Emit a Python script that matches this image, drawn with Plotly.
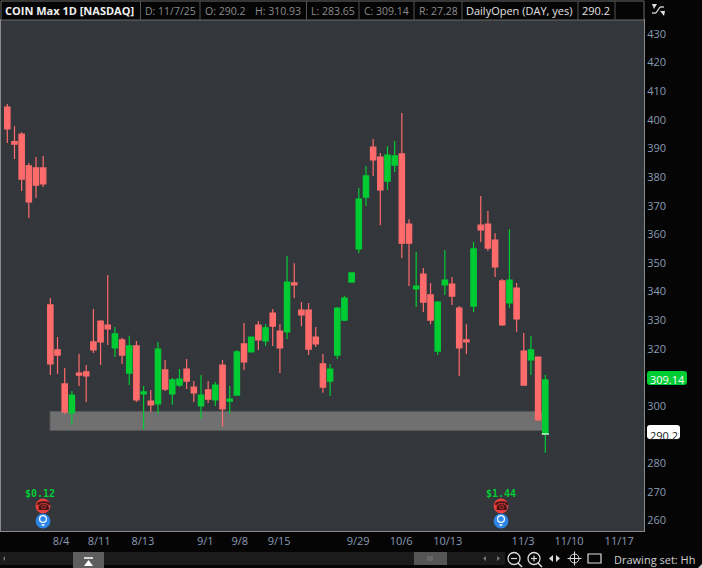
import plotly.graph_objects as go

W, H = 702, 568
L, R, T, B = 1, 644, 20, 531

highs = [405.5,397.8,395.7,384.9,387.0,387.4,337.7,324.1,313.3,305.2,318.2,314.3,333.9,330.0,345.8,327.6,323.8,324.5,322.7,307.0,
         305.6,322.4,316.1,309.8,312.9,316.4,308.7,310.8,308.7,308.4,316.1,307.0,319.6,329.0,324.1,329.7,328.6,333.9,328.6,352.4,
         349.9,336.3,336.0,327.6,318.2,314.7,334.6,338.4,346.5,376.2,383.9,393.3,388.4,390.8,392.6,402.4,365.3,353.8,348.2,343.0,
         336.7,354.5,345.1,334.9,328.6,357.3,373.4,368.1,360.4,344.4,361.8,343.0,325.5,324.5,317.1,310.93]
body_top = [404.5,392.4,395.0,383.9,383.2,383.2,335.3,319.6,307.7,303.8,311.5,311.9,322.4,329.7,328.3,325.2,323.1,321.0,321.0,304.9,
            301.7,319.9,312.6,309.1,309.4,312.9,306.6,303.8,305.6,307.3,314.3,302.4,318.9,321.7,324.1,328.3,327.3,332.5,326.2,343.3,
            343.0,333.5,333.5,324.1,314.7,312.9,334.2,337.7,346.5,372.3,380.4,390.5,387.0,387.7,387.4,388.1,363.6,341.9,346.1,338.8,
            336.3,344.0,342.6,334.2,323.1,354.9,363.2,363.6,358.0,343.7,344.0,341.2,319.2,319.6,317.1,309.14]
body_bot = [396.8,391.5,379.3,371.3,377.2,377.6,314.7,317.8,297.9,297.6,310.8,310.5,319.6,322.4,326.9,320.3,317.8,311.5,302.1,304.2,
            300.4,300.7,305.9,304.2,307.3,308.7,304.6,300.0,302.4,302.1,299.0,301.7,303.8,315.4,318.9,323.1,322.7,327.9,320.3,325.9,
            342.3,331.8,319.9,321.7,306.6,308.7,317.8,330.0,343.3,354.9,373.0,386.0,375.5,378.6,384.2,356.9,356.9,340.9,336.3,330.0,
            319.2,342.3,338.4,320.3,322.4,334.9,361.5,355.2,348.6,328.3,336.0,330.4,307.3,316.1,295.1,290.2]
lows = [391.9,386.3,375.1,365.7,372.7,376.5,310.8,311.2,297.2,293.4,307.0,301.4,318.5,314.3,321.3,317.1,314.7,307.3,301.4,291.6,
        297.9,297.2,305.2,300.4,306.6,305.9,301.4,295.5,301.0,300.0,292.7,297.2,303.8,312.6,318.9,319.6,321.0,321.0,311.5,323.4,
        337.7,327.9,317.8,320.6,304.6,303.5,316.4,329.7,343.3,353.5,369.9,380.4,363.2,375.5,381.8,351.7,341.9,334.6,332.8,328.6,
        317.8,338.8,335.3,310.5,318.2,332.8,357.3,354.2,345.1,328.0,334.2,325.9,307.0,310.8,294.8,283.65]
is_up = [0,0,0,0,0,0,0,0,0,1,0,0,0,0,0,1,0,1,0,1,
         0,1,0,1,1,0,0,1,0,1,0,1,1,0,1,0,1,0,0,1,
         0,0,0,0,0,1,1,1,1,1,1,0,0,1,1,0,0,1,0,0,
         1,1,0,0,0,1,0,0,0,0,1,0,0,1,0,1]

opens = [b if u else t for t, b, u in zip(body_top, body_bot, is_up)]
closes = [t if u else b for t, b, u in zip(body_top, body_bot, is_up)]
session = list(range(len(highs)))

tick_labels = ["8/4","8/11","8/13","9/1","9/8","9/15","9/29","10/6","10/13","11/3","11/10","11/17"]
tick_sessions = [7.5,12.8,18.9,27.6,32.4,37.9,48.9,54.9,61.4,71.9,78.3,85.3]
price_ticks = [430,420,410,400,390,380,370,360,350,340,330,320,300,280,270,260]
band_low, band_high = 291.4, 298.1
band_start, band_end = 5.95, 74.9
last_close, daily_open = 309.14, 290.2

header_cells = [("COIN Max 1D [NASDAQ]", 5, "#f0f0f0", True, 11),
                ("D: 11/7/25", 144.6, "#8b8b8b", False, 10.5),
                ("O: 290.2", 204.6, "#8b8b8b", False, 10.5),
                ("H: 310.93", 254.8, "#8b8b8b", False, 10.5),
                ("L: 283.65", 311, "#8b8b8b", False, 10.5),
                ("C: 309.14", 364, "#8b8b8b", False, 10.5),
                ("R: 27.28", 419, "#8b8b8b", False, 10.5),
                ("DailyOpen (DAY, yes)", 466, "#e0e0e0", False, 11),
                ("290.2", 582, "#e0e0e0", False, 11)]
header_seps = [140.5, 200, 306.5, 359, 414, 462, 578, 615]

FONT = "Open Sans"
GREEN, RED = "#00cc33", "#ff6b6b"
AXIS = "#8a9bb3"

px = lambda x: (x - L) / (R - L)
py = lambda y: (B - y) / (B - T)
shapes, ann = [], []

def rect(x0, y0, x1, y1, fill, line=None, lw=0):
    shapes.append(dict(type="rect", xref="paper", yref="paper", x0=px(x0), x1=px(x1), y0=py(y0), y1=py(y1),
                       fillcolor=fill, line=dict(color=line or fill, width=lw), layer="above"))

def rounded(x0, y0, x1, y1, r, fill):
    p = lambda x, y: f"{px(x):.5f},{py(y):.5f}"
    d = (f"M{p(x0+r,y0)} L{p(x1-r,y0)} Q{p(x1,y0)} {p(x1,y0+r)} L{p(x1,y1-r)} Q{p(x1,y1)} {p(x1-r,y1)} "
         f"L{p(x0+r,y1)} Q{p(x0,y1)} {p(x0,y1-r)} L{p(x0,y0+r)} Q{p(x0,y0)} {p(x0+r,y0)} Z")
    shapes.append(dict(type="path", xref="paper", yref="paper", path=d, fillcolor=fill, line=dict(width=0), layer="above"))

def circ(cx, cy, r, fill, line=None, lw=0):
    shapes.append(dict(type="circle", xref="paper", yref="paper", x0=px(cx-r), x1=px(cx+r), y0=py(cy+r), y1=py(cy-r),
                       fillcolor=fill, line=dict(color=line or fill, width=lw), layer="above"))

def seg(x0, y0, x1, y1, color, lw=1):
    shapes.append(dict(type="line", xref="paper", yref="paper", x0=px(x0), x1=px(x1), y0=py(y0), y1=py(y1),
                       line=dict(color=color, width=lw), layer="above"))

def poly(points, fill):
    d = "M" + " L".join(f"{px(x):.5f},{py(y):.5f}" for x, y in points) + " Z"
    shapes.append(dict(type="path", xref="paper", yref="paper", path=d, fillcolor=fill, line=dict(width=0), layer="above"))

def text(s, x, y, color, size=11, anchor="left", bold=False, family=FONT):
    ann.append(dict(xref="paper", yref="paper", x=px(x), y=py(y), text=f"<b>{s}</b>" if bold else s, showarrow=False,
                    xanchor=anchor, yanchor="middle", font=dict(family=family, size=size, color=color),
                    borderpad=0, borderwidth=0))

# price band (under the candles)
shapes.append(dict(type="rect", xref="x", yref="y", x0=band_start, x1=band_end, y0=band_low, y1=band_high,
                   fillcolor="#707070", line=dict(color="#585858", width=1), layer="below"))

# header
rect(1, 1, 644, 20, "#050505", "#6a6a6a", 1)
for s in header_seps:
    seg(s, 1, s, 20, "#555555")
for label, x0, color, bold, size in header_cells:
    text(label, x0, 10.5, color, size, bold=bold)

# earnings / dividend markers
for cx, lab in ((43, "$0.12"), (501, "$1.44")):
    text(lab, cx - 3.5 if cx == 43 else cx, 493, GREEN, 10, "center", True, "DejaVu Sans Mono")
    circ(cx, 506, 7.4, "#e8403f")
    text("☎", cx, 505.5, "#4a1414", 12, "center", family="DejaVu Sans")
    circ(cx, 521, 7.4, "#2b86e8")
    circ(cx, 519, 3.4, "#2b86e8", "#ffffff", 1.3)
    seg(cx - 1.5, 525, cx + 1.5, 525, "#ffffff", 1.5)

# price tags
rounded(647, 371, 687, 385, 3, GREEN)
ann.append(dict(xref="paper", yref="y", x=px(667), y=last_close, text=f"{last_close:.2f}", showarrow=False,
                xanchor="center", font=dict(family=FONT, size=11, color="#ffffff")))
rounded(647, 425, 680, 439, 3, "#ffffff")
ann.append(dict(xref="paper", yref="y", x=px(663.5), y=daily_open - 0.4, text=f"{daily_open}", showarrow=False,
                xanchor="center", font=dict(family=FONT, size=11, color="#202020")))

# top right icon
seg(652, 13, 656, 13, "#dddddd", 1.3)
seg(656, 13, 660, 7, "#dddddd", 1.3)
seg(660, 7, 664, 7, "#dddddd", 1.3)
poly([(652, 4), (657, 4), (654, 9)], "#dddddd")
poly([(660, 11), (665, 11), (664, 16)], "#dddddd")

# bottom bar
rect(0, 552, 505, 565, "#1b1b1b")
rect(73, 552, 104, 568, "#5e5e5e")
seg(84, 558, 93, 558, "#ffffff", 1.5)
poly([(88.5, 560), (84, 566), (93, 566)], "#ffffff")
rect(414, 552, 447, 565, "#555555")
for x in (428, 430, 432):
    seg(x, 556, x, 561, "#8a8a8a", 0.7)
poly([(5, 556), (3, 558.5), (5, 561)], "#777777")
poly([(486, 556), (483, 558.5), (486, 561)], "#777777")
poly([(497, 556), (500, 558.5), (497, 561)], "#777777")
for cx, mark in ((514, "-"), (534, "+")):
    circ(cx, 558.5, 6, "rgba(0,0,0,0)", "#dddddd", 1.3)
    seg(cx + 4, 563, cx + 8, 567, "#dddddd", 1.5)
    seg(cx - 3, 558.5, cx + 3, 558.5, "#dddddd", 1.2)
    if mark == "+":
        seg(cx, 555.5, cx, 561.5, "#dddddd", 1.2)
poly([(549, 558.5), (553, 555), (553, 562)], "#dddddd")
poly([(560, 558.5), (556, 555), (556, 562)], "#dddddd")
circ(574.5, 558.5, 4.5, "rgba(0,0,0,0)", "#dddddd", 1)
seg(567.5, 558.5, 581.5, 558.5, "#dddddd", 1)
seg(574.5, 551.5, 574.5, 565.5, "#dddddd", 1)
rect(588, 554, 601, 563, "rgba(0,0,0,0)", "#dddddd", 1.2)
text("Drawing set: Hh", 614, 559.5, "#cfcfcf", 11)
poly([(702, 564), (702, 568), (698, 568)], "#cccccc")

fig = go.Figure(go.Candlestick(
    x=session, open=opens, high=highs, low=lows, close=closes,
    increasing=dict(line=dict(color=GREEN, width=1.2), fillcolor=GREEN),
    decreasing=dict(line=dict(color=RED, width=1.2), fillcolor=RED),
    whiskerwidth=0, hoverinfo="skip", showlegend=False))

# daily-open dash on the last candle
fig.add_trace(go.Scatter(x=[session[-1] - 0.5, session[-1] + 0.5], y=[daily_open, daily_open], mode="lines",
                         line=dict(color="#ffffff", width=1.2), hoverinfo="skip", showlegend=False))

fig.update_layout(
    width=W, height=H, autosize=False, margin=dict(l=L, r=W - R, t=T, b=H - B, pad=0),
    paper_bgcolor="#050505", plot_bgcolor="#33363b", showlegend=False, boxgap=0.0, boxgroupgap=0.25,
    shapes=shapes, annotations=ann, font=dict(family=FONT),
    xaxis=dict(range=[-0.88, 88.76], tickmode="array", tickvals=tick_sessions, ticktext=tick_labels,
               showgrid=False, zeroline=False, ticks="", rangeslider=dict(visible=False),
               tickfont=dict(family=FONT, size=11, color=AXIS), showline=True, linecolor="#8a8a8a", mirror=True, linewidth=1),
    yaxis=dict(range=[256.3, 434.9], side="right", tickmode="array", tickvals=price_ticks,
               ticktext=[str(p) for p in price_ticks], showgrid=False, zeroline=False, ticks="",
               tickfont=dict(family=FONT, size=11, color=AXIS), showline=True, linecolor="#8a8a8a", mirror=True, linewidth=1),
)
fig.write_html("out.html", config=dict(displayModeBar=False),
               post_script="document.body.style.margin='0';document.body.style.background='#050505';document.documentElement.style.overflow='hidden';")
